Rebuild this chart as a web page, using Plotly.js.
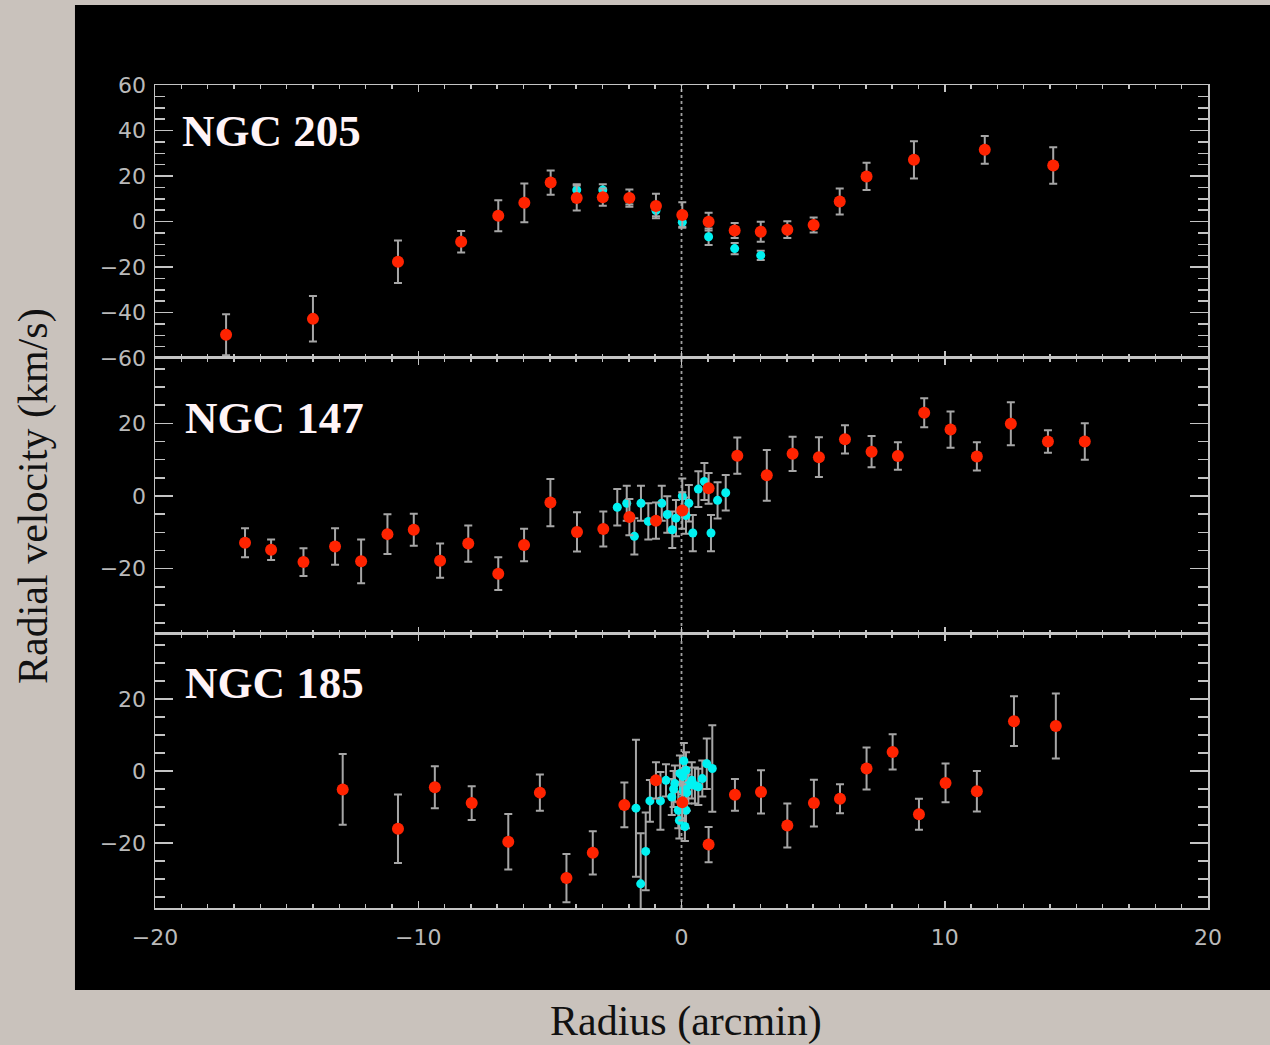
<!DOCTYPE html>
<html>
<head>
<meta charset="utf-8">
<script src="https://cdn.plot.ly/plotly-3.0.1.min.js"></script>
<style>
  html, body { margin: 0; padding: 0; background: #c9c2bc; }
  #chart { width: 1270px; height: 1045px; }
</style>
</head>
<body>
<div id="chart"></div>
<script>
// Radial velocity profiles of three dwarf ellipticals

// NGC 205 — long-slit points (red) and central points (cyan)
const n205RedR   = [-17.3, -14.0, -10.77, -8.37, -6.96, -5.97, -4.97, -3.98, -2.99, -1.98, -0.97, 0.03, 1.03, 2.02, 3.01, 4.02, 5.02, 6.01, 7.03, 8.83, 11.52, 14.12];
const n205RedV   = [-49.8, -42.8, -17.7, -8.9, 2.5, 8.2, 17.1, 10.3, 10.7, 10.3, 6.8, 2.9, -0.1, -4.0, -4.5, -3.6, -1.5, 8.8, 19.8, 27.1, 31.5, 24.6];
const n205RedErr = [9.0, 10.0, 9.3, 4.7, 6.8, 8.5, 5.3, 5.5, 3.8, 3.8, 5.4, 5.6, 3.9, 3.3, 4.4, 3.7, 3.3, 5.7, 6.0, 8.2, 6.1, 8.0];
const n205CyanR   = [-3.98, -2.99, -1.98, -0.97, 0.03, 1.03, 2.02, 3.01];
const n205CyanV   = [13.9, 13.9, 9.5, 4.8, -0.3, -6.7, -11.9, -14.9];
const n205CyanErr = [2.5, 2.5, 2.0, 2.5, 2.0, 3.6, 2.5, 2.0];

// NGC 147
const n147RedR   = [-16.58, -15.59, -14.36, -13.16, -12.17, -11.17, -10.17, -9.17, -8.1, -6.96, -5.98, -4.98, -3.97, -2.97, -1.98, -0.97, 0.03, 1.03, 2.12, 3.24, 4.22, 5.22, 6.21, 7.22, 8.22, 9.22, 10.22, 11.22, 12.51, 13.92, 15.32];
const n147RedV   = [-12.9, -14.8, -18.2, -13.9, -18.0, -10.5, -9.3, -17.8, -13.1, -21.4, -13.5, -1.8, -9.9, -9.1, -5.8, -6.8, -4.0, 2.1, 11.1, 5.7, 11.6, 10.7, 15.6, 12.2, 11.0, 22.9, 18.3, 10.9, 19.9, 15.0, 15.0];
const n147RedErr = [4.0, 2.8, 3.8, 5.0, 6.0, 5.5, 4.4, 4.7, 5.0, 4.5, 4.5, 6.5, 5.4, 4.8, 5.0, 5.0, 5.0, 4.2, 5.0, 7.0, 4.7, 5.5, 3.9, 4.3, 3.8, 4.0, 5.0, 3.9, 5.9, 3.1, 5.0];
const n147CyanR   = [-2.44, -2.08, -1.79, -1.54, -1.26, -0.75, -0.54, -0.35, -0.21, 0.03, 0.17, 0.28, 0.43, 0.64, 0.87, 1.12, 1.37, 1.68];
const n147CyanV   = [-3.1, -2.0, -11.1, -2.0, -7.0, -2.0, -5.1, -9.3, -6.1, 0.0, -5.4, -2.0, -10.2, 1.9, 4.0, -10.2, -1.2, 0.9];
const n147CyanErr = [5.0, 4.8, 5.0, 4.8, 5.0, 4.8, 5.0, 5.0, 5.0, 4.8, 5.0, 5.0, 5.0, 4.9, 5.1, 5.0, 5.0, 4.9];

// NGC 185
const n185RedR   = [-12.87, -10.77, -9.37, -7.97, -6.58, -5.38, -4.37, -3.37, -2.17, -0.97, 0.03, 1.03, 2.03, 3.02, 4.02, 5.03, 6.02, 7.03, 8.02, 9.02, 10.03, 11.22, 12.63, 14.22];
const n185RedV   = [-5.1, -16.0, -4.5, -8.9, -19.6, -6.0, -29.7, -22.7, -9.4, -2.6, -8.7, -20.4, -6.6, -5.8, -15.1, -8.9, -7.7, 0.7, 5.3, -12.0, -3.3, -5.6, 13.8, 12.5];
const n185RedErr = [9.8, 9.5, 5.8, 4.7, 7.7, 5.0, 6.7, 6.0, 6.2, 5.0, 5.0, 4.9, 4.4, 6.0, 6.1, 6.5, 4.0, 5.8, 4.9, 4.3, 5.4, 5.6, 6.9, 9.0];
const n185CyanR   = [-1.73, -1.55, -1.36, -1.20, -0.80, -0.59, -0.37, -0.25, -0.12, -0.06, 0.01, 0.07, 0.09, 0.13, 0.17, 0.17, 0.26, 0.39, 0.51, 0.64, 0.79, 0.96, 1.17, -0.08, 0.20, -0.30, 0.05];
const n185CyanV   = [-10.3, -31.3, -22.3, -8.3, -8.3, -2.6, -7.2, -3.5, -10.9, -0.7, -8.1, -5.4, 2.8, -15.4, 0.2, -10.9, -4.0, -2.6, -4.0, -4.4, -2.1, 2.0, 0.7, -13.7, -6.0, -5.0, -1.5];
const n185CyanErr = [19.0, 14.0, 10.8, 5.8, 8.0, 4.5, 5.0, 5.0, 5.0, 5.0, 5.0, 4.0, 5.0, 4.0, 5.0, 5.0, 5.0, 5.0, 5.0, 5.0, 5.0, 7.0, 12.0, 5.0, 5.0, 5.0, 5.0];

const panelNames = ['NGC 205', 'NGC 147', 'NGC 185'];
const xTickVals = [-20, -10, 0, 10, 20];
const yTickTop = [-60, -40, -20, 0, 20, 40, 60];
const yTickLower = [-20, 0, 20];

const RED = '#ff2300';
const CYAN = '#00f2f2';
const BAR = '#a6a6a6';
const AXIS = '#c4c4c4';
const LABEL = '#bababa';

function pts(x, y, err, color, size, xa, ya) {
  return {
    type: 'scatter', mode: 'markers', x: x, y: y,
    xaxis: xa, yaxis: ya, showlegend: false, hoverinfo: 'skip',
    marker: { color: color, size: size, line: { width: 0 } },
    error_y: { type: 'data', array: err, visible: true, color: BAR, thickness: 2, width: 4 }
  };
}

const traces = [
  pts(n205CyanR, n205CyanV, n205CyanErr, CYAN, 9, 'x', 'y'),
  pts(n205RedR, n205RedV, n205RedErr, RED, 12, 'x', 'y'),
  pts(n147CyanR, n147CyanV, n147CyanErr, CYAN, 9, 'x2', 'y2'),
  pts(n147RedR, n147RedV, n147RedErr, RED, 12, 'x2', 'y2'),
  pts(n185CyanR, n185CyanV, n185CyanErr, CYAN, 9, 'x3', 'y3'),
  pts(n185RedR, n185RedV, n185RedErr, RED, 12, 'x3', 'y3')
];

const tickFont = { family: 'DejaVu Sans, sans-serif', size: 22, color: LABEL };

function xAxis(anchor, showLabels) {
  return {
    anchor: anchor, domain: [0, 1], range: [-20, 20],
    tickmode: 'array', tickvals: xTickVals, showticklabels: showLabels,
    ticks: 'inside', ticklen: 7, tickwidth: 1.5, tickcolor: AXIS,
    minor: { dtick: 1, ticks: 'inside', ticklen: 4, tickwidth: 1.5, tickcolor: AXIS },
    showline: true, linecolor: AXIS, linewidth: 1.5, mirror: 'allticks',
    showgrid: false, zeroline: false, tickfont: tickFont, ticklabelstandoff: 9,
    fixedrange: true
  };
}

function yAxis(anchor, domain, range, vals) {
  return {
    anchor: anchor, domain: domain, range: range,
    tickmode: 'array', tickvals: vals,
    ticks: 'inside', ticklen: 18, tickwidth: 1.5, tickcolor: AXIS,
    minor: { dtick: 5, tick0: 0, ticks: 'inside', ticklen: 10, tickwidth: 1.5, tickcolor: AXIS },
    showline: true, linecolor: AXIS, linewidth: 1.5, mirror: 'allticks',
    showgrid: false, zeroline: false, tickfont: tickFont, ticklabelstandoff: 3,
    fixedrange: true
  };
}

const nameFont = { family: 'Liberation Serif, Times New Roman, serif', size: 45, color: '#fff4f7' };
const titleFont = { family: 'Liberation Serif, Times New Roman, serif', size: 42, color: '#111111' };

const layout = {
  width: 1270, height: 1045,
  margin: { l: 155, r: 62, t: 85, b: 137, pad: 0 },
  paper_bgcolor: '#c9c2bc',
  plot_bgcolor: '#000000',
  xaxis: xAxis('y', false),
  xaxis2: Object.assign(xAxis('y2', false), { matches: 'x' }),
  xaxis3: Object.assign(xAxis('y3', true), { matches: 'x' }),
  yaxis: yAxis('x', [0.66829, 1], [-60, 60], yTickTop),
  yaxis2: yAxis('x2', [0.33293, 0.66829], [-38, 38], yTickLower),
  yaxis3: yAxis('x3', [0, 0.33293], [-38, 38], yTickLower),
  shapes: [
    // black backdrop behind the three panels
    { type: 'rect', xref: 'paper', yref: 'paper', x0: -0.076, x1: 1.06, y0: -0.0996, y1: 1.0972,
      fillcolor: '#000000', line: { width: 0 }, layer: 'below' },
    // dotted line through the centre of each galaxy
    { type: 'line', xref: 'x', yref: 'paper', x0: 0, x1: 0, y0: 0, y1: 1,
      line: { color: '#a0a0a0', width: 1.8, dash: 'dot' }, layer: 'below' }
  ],
  annotations: [
    { text: '<b>' + panelNames[0] + '</b>', xref: 'paper', yref: 'paper', x: 0.0238, y: 0.9441,
      xanchor: 'left', yanchor: 'middle', showarrow: false, font: nameFont },
    { text: '<b>' + panelNames[1] + '</b>', xref: 'paper', yref: 'paper', x: 0.0266, y: 0.5948,
      xanchor: 'left', yanchor: 'middle', showarrow: false, font: nameFont },
    { text: '<b>' + panelNames[2] + '</b>', xref: 'paper', yref: 'paper', x: 0.0266, y: 0.2728,
      xanchor: 'left', yanchor: 'middle', showarrow: false, font: nameFont },
    { text: 'Radial velocity (km/s)', xref: 'paper', yref: 'paper', x: -0.1159, y: 0.5006,
      xanchor: 'center', yanchor: 'middle', textangle: -90, showarrow: false, font: titleFont },
    { text: 'Radius (arcmin)', xref: 'paper', yref: 'paper', x: 0.5043, y: -0.1385,
      xanchor: 'center', yanchor: 'middle', showarrow: false, font: titleFont }
  ]
};

Plotly.newPlot('chart', traces, layout, { displayModeBar: false, staticPlot: true });
</script>
</body>
</html>
